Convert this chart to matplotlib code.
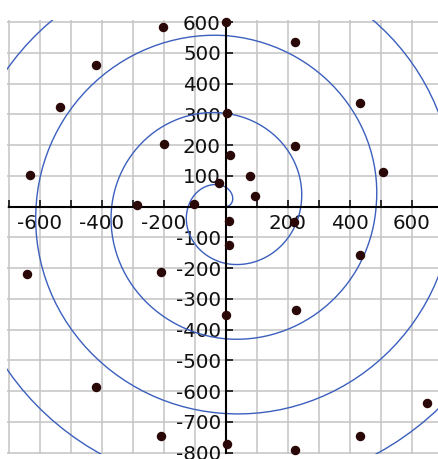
import numpy as np
import matplotlib.pyplot as plt
from matplotlib.projections.polar import PolarAxes
from matplotlib.ticker import MultipleLocator, FuncFormatter

plt.rcParams['axes.unicode_minus'] = False
plt.rcParams['font.family'] = 'DejaVu Sans'

# spiral: radius read at every quarter turn (degrees counter-clockwise from +x)
spiral_angle = [0, 90, 180, 270, 360, 450, 540, 630, 720,
                810, 900, 990, 1080, 1170, 1260, 1350, 1440]
spiral_radius = [0, 63, 121, 185, 242, 303, 368, 430, 485,
                 556, 612, 673, 735, 796, 857, 918, 980]

# scattered points
dot_x = [-202, -418, -535, -633, -199, -285, -104, -22, 0, 223, 433, 223,
         506, 4, 14, 77, 95, 11, 221, 11, 433, 228, 0, 648, 433, 5, 223,
         -641, -210, -418, -210]
dot_y = [584, 459, 324, 102, 203, 5, 10, 76, 600, 535, 337, 198,
         113, 303, 167, 98, 33, -47, -49, -125, -159, -335, -354, -640,
         -745, -772, -792, -219, -213, -588, -745]

fig = plt.figure(figsize=(4.39, 4.59), dpi=100)
ax = fig.add_axes([0.0164, 0.01046, 0.9852, 0.9449])
ax.set_xlim(-705, 690)
ax.set_ylim(-805, 605)

polar = PolarAxes.PolarTransform(apply_theta_transforms=False)
spiral, = ax.plot(np.deg2rad(spiral_angle), spiral_radius, color='#3b5fbd',
                  lw=1.0, transform=polar + ax.transData, zorder=2)
# let the polar transform draw each quarter turn as a spiral arc
spiral.get_path()._interpolation_steps = 30
spiral.recache_always()

ax.plot(dot_x, dot_y, 'o', ms=5.8, color='#2a0808', zorder=3, clip_on=False)

ax.xaxis.set_major_locator(MultipleLocator(100))
ax.yaxis.set_major_locator(MultipleLocator(100))
ax.xaxis.set_major_formatter(FuncFormatter(
    lambda v, p: '' if round(v) == 0 or round(v) % 200 else '%d' % round(v)))
ax.yaxis.set_major_formatter(FuncFormatter(
    lambda v, p: '' if round(v) == 0 else '%d' % round(v)))

ax.grid(True, color='#c4c4c4', lw=1.1)
ax.set_axisbelow(True)

for s in ['top', 'right']:
    ax.spines[s].set_visible(False)
ax.spines['left'].set_position(('data', 0))
ax.spines['bottom'].set_position(('data', 0))
ax.spines['left'].set_bounds(-800, 600)
ax.spines['bottom'].set_bounds(-700, 690)
for s in ['left', 'bottom']:
    ax.spines[s].set_linewidth(1.5)
    ax.spines[s].set_zorder(2.5)

ax.tick_params(direction='in', length=5, width=1.1, color='black',
               labelcolor='#111111', labelsize=14.3)
ax.tick_params(axis='x', pad=5)
ax.tick_params(axis='y', pad=3.5)

fig.savefig('out.png', dpi=100)
